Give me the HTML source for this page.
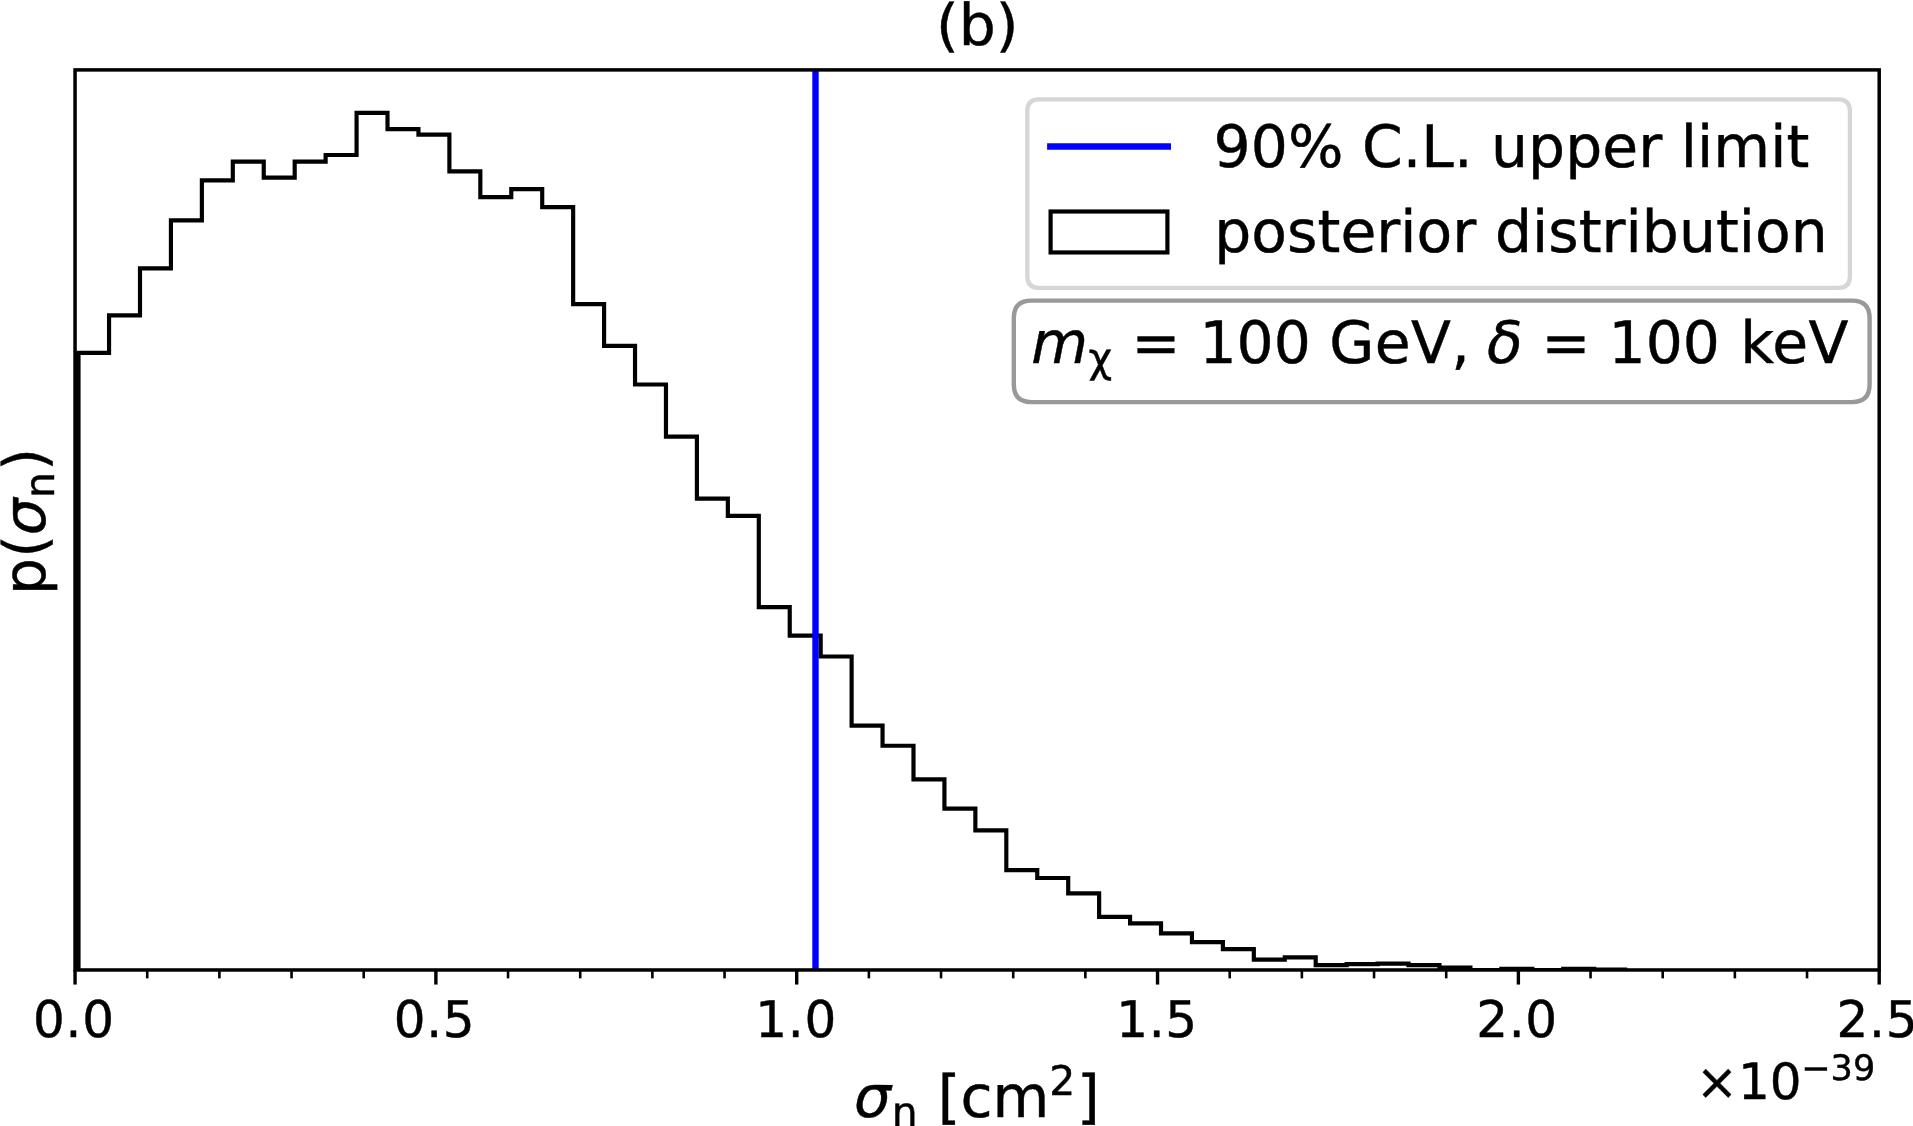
<!DOCTYPE html>
<html lang="en">
<head>
<meta charset="utf-8">
<title>(b) posterior distribution</title>
<style>
html,body{margin:0;padding:0;background:#fff;}
body{width:1913px;height:1126px;overflow:hidden;}
svg{display:block;will-change:transform;}
text{text-rendering:geometricPrecision;font-family:"DejaVu Sans","Liberation Sans",sans-serif;fill:#000;stroke:#000;stroke-width:0.45px;}
.it{font-style:italic;}
</style>
</head>
<body>
<svg width="1913" height="1126" viewBox="0 0 1913 1126">
<rect x="0" y="0" width="1913" height="1126" fill="#ffffff"/>
<defs>
<clipPath id="ax"><rect x="75.05" y="69.9" width="1804.15" height="900.07"/></clipPath>
</defs>

<!-- histogram + limit line -->
<g clip-path="url(#ax)">
<path d="M78.5,969.97V352.9H109.05V315.35H139.99V268.3H170.93V220.3H201.87V180.3H232.81V161.56H263.75V177.6H294.69V161.56H325.63V155.0H356.57V112.9H387.51V129.1H418.45V134.6H449.39V171.3H480.33V197.2H511.27V189.2H542.21V207.1H573.15V304.2H604.09V345.8H635.03V384.5H665.97V436.6H696.91V498.7H727.85V515.8H758.79V607.1H789.73V635.6H820.67V656.5H851.61V725.6H882.55V745.75H913.49V779.4H944.43V808.7H975.37V830.45H1006.31V870.1H1037.25V878.0H1068.19V893.4H1099.13V916.85H1130.07V923.45H1161.01V933.3H1191.95V942.2H1222.89V949.2H1253.83V959.67H1284.77V957.4H1315.71V965.06H1346.65V964.2H1377.59V963.7H1408.53V965.2H1439.47V967.55H1470.41V969.97H1501.35V968.9H1532.29V969.97H1563.23V968.9H1594.17V969.5H1625.11V969.97" fill="none" stroke="#000" stroke-width="4.17" stroke-linejoin="miter" stroke-linecap="butt"/>
<line x1="77" x2="77" y1="352" y2="969.97" stroke="#000" stroke-width="1.6"/>
<line x1="815.5" x2="815.5" y1="64.90" y2="974.97" stroke="#0000ff" stroke-width="6.4"/>
</g>

<!-- ticks -->
<g stroke="#000" stroke-linecap="butt">
<line x1="75.05" x2="75.05" y1="969.97" y2="984.57" stroke-width="3.4"/>
<line x1="435.88" x2="435.88" y1="969.97" y2="984.57" stroke-width="3.4"/>
<line x1="796.71" x2="796.71" y1="969.97" y2="984.57" stroke-width="3.4"/>
<line x1="1157.54" x2="1157.54" y1="969.97" y2="984.57" stroke-width="3.4"/>
<line x1="1518.37" x2="1518.37" y1="969.97" y2="984.57" stroke-width="3.4"/>
<line x1="1879.2" x2="1879.2" y1="969.97" y2="984.57" stroke-width="3.4"/>
<line x1="147.22" x2="147.22" y1="969.97" y2="978.37" stroke-width="2.6"/>
<line x1="219.38" x2="219.38" y1="969.97" y2="978.37" stroke-width="2.6"/>
<line x1="291.55" x2="291.55" y1="969.97" y2="978.37" stroke-width="2.6"/>
<line x1="363.71" x2="363.71" y1="969.97" y2="978.37" stroke-width="2.6"/>
<line x1="508.05" x2="508.05" y1="969.97" y2="978.37" stroke-width="2.6"/>
<line x1="580.21" x2="580.21" y1="969.97" y2="978.37" stroke-width="2.6"/>
<line x1="652.38" x2="652.38" y1="969.97" y2="978.37" stroke-width="2.6"/>
<line x1="724.54" x2="724.54" y1="969.97" y2="978.37" stroke-width="2.6"/>
<line x1="868.88" x2="868.88" y1="969.97" y2="978.37" stroke-width="2.6"/>
<line x1="941.04" x2="941.04" y1="969.97" y2="978.37" stroke-width="2.6"/>
<line x1="1013.21" x2="1013.21" y1="969.97" y2="978.37" stroke-width="2.6"/>
<line x1="1085.37" x2="1085.37" y1="969.97" y2="978.37" stroke-width="2.6"/>
<line x1="1229.71" x2="1229.71" y1="969.97" y2="978.37" stroke-width="2.6"/>
<line x1="1301.87" x2="1301.87" y1="969.97" y2="978.37" stroke-width="2.6"/>
<line x1="1374.04" x2="1374.04" y1="969.97" y2="978.37" stroke-width="2.6"/>
<line x1="1446.2" x2="1446.2" y1="969.97" y2="978.37" stroke-width="2.6"/>
<line x1="1590.54" x2="1590.54" y1="969.97" y2="978.37" stroke-width="2.6"/>
<line x1="1662.7" x2="1662.7" y1="969.97" y2="978.37" stroke-width="2.6"/>
<line x1="1734.87" x2="1734.87" y1="969.97" y2="978.37" stroke-width="2.6"/>
<line x1="1807.03" x2="1807.03" y1="969.97" y2="978.37" stroke-width="2.6"/>
</g>

<!-- spines -->
<rect x="75.05" y="69.9" width="1804.15" height="900.07" fill="none" stroke="#000" stroke-width="3.5" stroke-linejoin="miter"/>

<!-- title -->
<g transform="matrix(1 0 0 0.985 0 0.675)"><text x="977.2" y="45" font-size="58.33" text-anchor="middle">(b)</text></g>

<!-- x tick labels -->
<g font-size="50" text-anchor="middle" transform="matrix(1 0 0 1.012 0 -12.444)">
<text x="73.85" y="1037" letter-spacing="0.7">0.0</text>
<text x="434.48" y="1037" letter-spacing="0.7">0.5</text>
<text x="796.11" y="1037" letter-spacing="0.7">1.0</text>
<text x="1156.94" y="1037" letter-spacing="0.7">1.5</text>
<text x="1516.97" y="1037" letter-spacing="0.7">2.0</text>
<text x="1877.40" y="1037" letter-spacing="0.7">2.5</text>
</g>

<!-- offset text -->
<g><text font-size="50" y="1099"><tspan x="1696.0">×10</tspan><tspan font-size="35" x="1801.3" y="1080">−39</tspan></text></g>

<!-- x label -->
<g><text font-size="58.33" y="1117"><tspan class="it" x="854.0">σ</tspan><tspan font-size="40.83" x="891.8" y="1126">n</tspan><tspan x="937.7" y="1117">[cm</tspan><tspan font-size="40.83" x="1049.3" y="1095">2</tspan><tspan x="1077.0" y="1117">]</tspan></text></g>

<!-- y label -->
<g transform="translate(44.9,590.2) rotate(-90)">
<g transform="matrix(1 0 0 1.0 0 0.000)"><text font-size="58.33" y="0"><tspan x="-4.7">p(</tspan><tspan class="it" x="55.0">σ</tspan><tspan font-size="40.83" x="92.3" y="8.7">n</tspan><tspan x="119.4" y="0">)</tspan></text></g>
</g>

<!-- legend -->
<path d="M1038.97,99.30L1838.23,99.30Q1849.90,99.30 1849.90,110.97L1849.90,276.13Q1849.90,287.80 1838.23,287.80L1038.97,287.80Q1027.30,287.80 1027.30,276.13L1027.30,110.97Q1027.30,99.30 1038.97,99.30Z" fill="#fff" fill-opacity="0.8" stroke="#d6d6d6" stroke-width="4.3"/>
<line x1="1047.1" x2="1171.0" y1="146.5" y2="146.5" stroke="#0000ff" stroke-width="6.4"/>
<rect x="1050.6" y="211.5" width="116.8" height="40.95" fill="none" stroke="#000" stroke-width="4.17"/>
<g><text font-size="58.33" x="1213.6" y="167" letter-spacing="0.05">90% C.L. upper limit</text></g>
<g><text font-size="58.33" x="1214.3" y="252" letter-spacing="0.04">posterior distribution</text></g>

<!-- annotation box -->
<path d="M1031.30,300.60L1852.10,300.60Q1869.60,300.60 1869.60,318.10L1869.60,384.60Q1869.60,402.10 1852.10,402.10L1031.30,402.10Q1013.80,402.10 1013.80,384.60L1013.80,318.10Q1013.80,300.60 1031.30,300.60Z" fill="#fff" stroke="#999999" stroke-width="4.4"/>
<g><text font-size="58.33" y="363"><tspan class="it" x="1031.2">m</tspan><tspan font-size="40.83" x="1088.4" y="372">χ</tspan><tspan x="1131.5" y="363">=</tspan><tspan x="1199.5">100</tspan><tspan x="1329.3" letter-spacing="0.3">GeV,</tspan><tspan class="it" x="1487">δ</tspan><tspan x="1541.5">=</tspan><tspan x="1608.6">100</tspan><tspan x="1740.3" letter-spacing="0.3">keV</tspan></text></g>
</svg>
</body>
</html>
